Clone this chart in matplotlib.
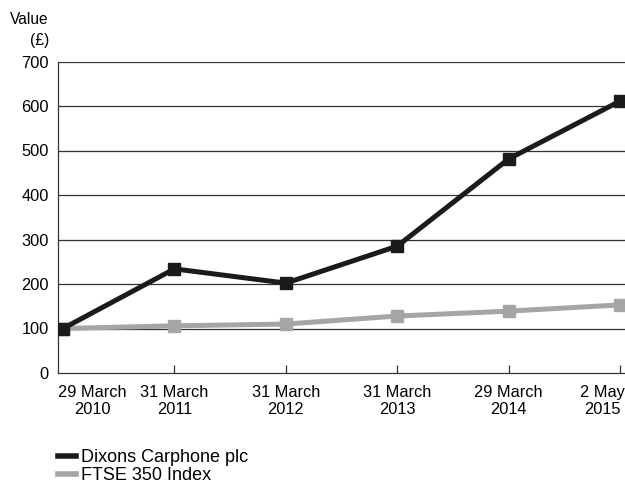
import matplotlib
matplotlib.use("Agg")
import matplotlib.pyplot as plt

plt.rcParams['font.family'] = ['Liberation Sans', 'DejaVu Sans']

# Data
dates = ['29 March\n2010', '31 March\n2011', '31 March\n2012',
         '31 March\n2013', '29 March\n2014', '2 May\n2015']
dixons = [100, 234, 202, 285, 481, 611]
ftse = [100, 106, 110, 128, 139, 153]
yticks = [0, 100, 200, 300, 400, 500, 600, 700]

x = list(range(len(dates)))

fig = plt.figure(figsize=(6.25, 4.88), dpi=100)
ax = fig.add_axes([58 / 625, 1 - 373 / 488, 567 / 625, 311.5 / 488])

# Gridlines
for v in yticks[1:]:
    ax.axhline(v, color='#333333', lw=0.9, zorder=1)

ax.plot(x, ftse, color='#a5a5a7', lw=3.6, marker='s', ms=9,
        label='FTSE 350 Index', zorder=3, solid_joinstyle='miter')
ax.plot(x, dixons, color='#1c1a1a', lw=3.6, marker='s', ms=9,
        label='Dixons Carphone plc', zorder=4, solid_joinstyle='miter')

ax.set_xlim(-0.045, 5.045)
ax.set_ylim(0, 700)
ax.set_yticks(yticks)
ax.set_xticks(x[1:])
ax.set_xticklabels([])
ax.tick_params(axis='x', direction='in', length=6, color='#333333', width=0.9)
ax.tick_params(axis='y', length=0, labelsize=11.8, pad=6.5)

for s in ['top', 'right']:
    ax.spines[s].set_visible(False)
for s in ['left', 'bottom']:
    ax.spines[s].set_color('#333333')
    ax.spines[s].set_linewidth(0.9)

# X labels: first left aligned, last right aligned
for i, lab in enumerate(dates):
    if i == 0:
        xpos, ha = -0.045, 'left'
    elif i == len(dates) - 1:
        xpos, ha = 5.045, 'right'
    else:
        xpos, ha = i, 'center'
    ax.text(xpos, -27, lab, ha=ha, va='top', fontsize=11.8,
            multialignment='center', linespacing=1.15)

fig.text(49 / 625, 1 - 20 / 488, 'Value', ha='right', va='center', fontsize=11.2)
fig.text(49 / 625, 1 - 40 / 488, '(£)', ha='right', va='center', fontsize=11.2)

# Legend
h, l = ax.get_legend_handles_labels()
leg = fig.legend([h[1], h[0]], [l[1], l[0]], loc='upper left',
                 bbox_to_anchor=(58 / 625, 1 - 449 / 488), frameon=False,
                 fontsize=13, handlelength=1.0, handletextpad=0.25,
                 labelspacing=0.08, borderaxespad=0, borderpad=0)
for lh in leg.legend_handles:
    lh.set_marker('')
    lh.set_linewidth(4)

fig.savefig('out.png', dpi=100)
